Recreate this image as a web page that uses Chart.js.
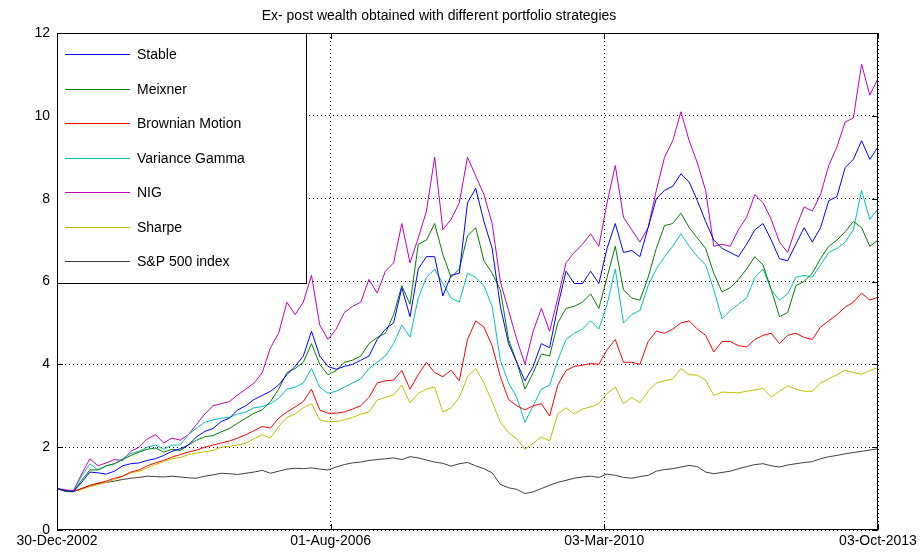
<!DOCTYPE html>
<html>
<head>
<meta charset="utf-8">
<script src="https://cdn.jsdelivr.net/npm/chart.js@4/dist/chart.umd.min.js"></script>
<style>
  html, body { margin: 0; padding: 0; background: #fff; }
  #wrap { width: 923px; height: 554px; }
</style>
</head>
<body>
<div id="wrap"><canvas id="wealth"></canvas></div>
<script>
// Ex-post wealth paths, sampled on an even grid of trading days (0..100)
const DATE_LABELS = ['30-Dec-2002', '01-Aug-2006', '03-Mar-2010', '03-Oct-2013'];

const stable = [
  1.00, 0.95, 0.93, 1.15, 1.40, 1.38, 1.35, 1.42, 1.55, 1.60,
  1.62, 1.68, 1.72, 1.80, 1.90, 1.96, 2.05, 2.25, 2.38, 2.45,
  2.62, 2.70, 2.90, 3.00, 3.15, 3.25, 3.35, 3.50, 3.75, 3.95,
  4.20, 4.80, 4.20, 3.95, 3.88, 3.95, 4.00, 4.10, 4.20, 4.60,
  4.85, 5.00, 5.85, 5.15, 6.30, 6.60, 6.60, 5.65, 6.15, 6.20,
  7.90, 8.25, 7.45, 6.80, 5.40, 4.50, 4.05, 3.60, 3.95, 4.50,
  4.40, 5.40, 6.25, 5.95, 5.95, 6.25, 5.95, 6.80, 7.40, 6.70,
  6.75, 6.60, 7.30, 8.00, 8.20, 8.30, 8.60, 8.40, 7.95, 7.45,
  7.00, 6.80, 6.70, 6.60, 6.90, 7.25, 7.40, 7.00, 6.55, 6.50,
  6.90, 7.30, 6.95, 7.30, 7.95, 8.05, 8.75, 8.95, 9.40, 8.95,
  9.25
];

const meixner = [
  1.00, 0.93, 0.92, 1.20, 1.45, 1.45, 1.55, 1.60, 1.70, 1.80,
  1.88, 1.95, 1.98, 1.88, 1.95, 1.92, 2.05, 2.17, 2.25, 2.28,
  2.37, 2.45, 2.58, 2.70, 2.82, 2.90, 3.10, 3.40, 3.80, 3.90,
  4.05, 4.50, 4.00, 3.75, 3.85, 4.05, 4.10, 4.20, 4.50, 4.65,
  4.75, 5.20, 5.90, 5.45, 6.90, 7.00, 7.40, 6.65, 6.10, 6.30,
  7.10, 7.30, 6.50, 6.20, 5.80, 4.60, 4.05, 3.40, 3.80, 4.25,
  4.20, 5.00, 5.35, 5.40, 5.50, 5.70, 5.35, 6.10, 6.85, 5.80,
  5.60, 5.55, 6.10, 6.80, 7.35, 7.40, 7.65, 7.30, 7.05, 6.80,
  6.20, 5.75, 5.85, 6.05, 6.30, 6.60, 6.40, 5.80, 5.15, 5.25,
  5.90, 6.00, 6.20, 6.55, 6.85, 7.00, 7.20, 7.45, 7.30, 6.85,
  7.00
];

const brownian = [
  1.00, 0.95, 0.93, 1.00, 1.08, 1.13, 1.18, 1.25, 1.30, 1.40,
  1.45, 1.55, 1.62, 1.68, 1.76, 1.82, 1.88, 1.93, 2.00, 2.05,
  2.10, 2.15, 2.22, 2.30, 2.40, 2.50, 2.46, 2.70, 2.85, 2.97,
  3.10, 3.40, 2.90, 2.82, 2.82, 2.85, 2.92, 3.00, 3.20, 3.55,
  3.60, 3.62, 3.85, 3.40, 3.75, 4.05, 3.80, 3.70, 3.86, 3.60,
  4.60, 5.05, 4.90, 4.45, 3.70, 3.15, 3.00, 2.90, 3.00, 3.05,
  2.75, 3.50, 3.85, 3.95, 3.98, 4.02, 4.00, 4.35, 4.60, 4.05,
  4.05, 4.00, 4.55, 4.80, 4.75, 4.85, 5.00, 5.05, 4.85, 4.70,
  4.30, 4.55, 4.55, 4.45, 4.42, 4.60, 4.70, 4.75, 4.50, 4.70,
  4.75, 4.65, 4.60, 4.90, 5.05, 5.20, 5.38, 5.50, 5.72, 5.55,
  5.62
];

const varianceGamma = [
  1.00, 0.95, 0.93, 1.30, 1.60, 1.45, 1.55, 1.60, 1.72, 1.85,
  1.90, 2.00, 2.05, 1.95, 2.05, 2.05, 2.30, 2.46, 2.60, 2.66,
  2.70, 2.72, 2.80, 2.85, 2.95, 2.98, 3.05, 3.18, 3.40, 3.45,
  3.55, 3.90, 3.45, 3.30, 3.35, 3.45, 3.55, 3.65, 3.90, 4.05,
  4.20, 4.50, 4.95, 4.66, 5.60, 6.10, 6.30, 5.95, 5.60, 5.50,
  6.20, 6.10, 5.90, 5.40, 4.10, 3.55, 3.20, 2.60, 3.00, 3.40,
  3.50, 4.10, 4.60, 4.75, 4.85, 5.05, 4.85, 5.45, 6.30, 5.00,
  5.20, 5.30, 5.90, 6.30, 6.60, 6.85, 7.15, 6.85, 6.60, 6.40,
  5.80, 5.10, 5.30, 5.45, 5.60, 6.10, 6.30, 5.80, 5.55, 5.70,
  6.10, 6.15, 6.10, 6.40, 6.70, 6.80, 6.95, 7.25, 8.20, 7.50,
  7.75
];

const nig = [
  1.00, 0.97, 0.95, 1.35, 1.72, 1.55, 1.62, 1.70, 1.68, 1.90,
  2.00, 2.20, 2.30, 2.10, 2.22, 2.17, 2.30, 2.55, 2.80, 3.00,
  3.05, 3.10, 3.26, 3.40, 3.55, 3.80, 4.40, 4.75, 5.50, 5.20,
  5.50, 6.15, 4.95, 4.60, 4.85, 5.25, 5.40, 5.50, 6.05, 5.72,
  6.25, 6.45, 7.40, 6.45, 7.05, 7.70, 9.00, 7.25, 7.50, 7.90,
  9.00, 8.55, 8.10, 7.40, 6.00, 5.30, 4.60, 4.00, 4.80, 5.35,
  4.80, 5.60, 6.45, 6.70, 6.90, 7.15, 6.85, 7.90, 8.80, 7.55,
  7.25, 6.95, 7.30, 8.20, 9.00, 9.40, 10.10, 9.40, 8.86, 8.20,
  6.85, 6.90, 6.85, 7.25, 7.55, 8.10, 7.90, 7.50, 6.95, 6.70,
  7.30, 7.80, 7.70, 8.10, 8.80, 9.25, 9.85, 9.95, 11.25, 10.50,
  10.90
];

const sharpe = [
  1.00, 0.95, 0.93, 0.98, 1.05, 1.10, 1.15, 1.22, 1.30, 1.38,
  1.42, 1.50, 1.58, 1.65, 1.72, 1.75, 1.82, 1.86, 1.89, 1.92,
  2.00, 2.02, 2.05, 2.10, 2.20, 2.30, 2.22, 2.50, 2.72, 2.80,
  2.95, 3.05, 2.66, 2.61, 2.62, 2.66, 2.72, 2.80, 2.85, 3.14,
  3.20, 3.26, 3.50, 3.07, 3.30, 3.40, 3.45, 2.85, 2.95, 3.20,
  3.70, 3.90, 3.55, 3.10, 2.60, 2.35, 2.20, 1.95, 2.10, 2.25,
  2.15, 2.80, 2.95, 2.80, 2.92, 2.97, 3.05, 3.30, 3.45, 3.05,
  3.20, 3.07, 3.35, 3.55, 3.60, 3.65, 3.90, 3.75, 3.74, 3.62,
  3.25, 3.33, 3.32, 3.31, 3.35, 3.38, 3.42, 3.21, 3.35, 3.48,
  3.40, 3.35, 3.35, 3.55, 3.65, 3.75, 3.86, 3.80, 3.76, 3.85,
  3.92
];

const sp500 = [
  1.00, 0.95, 0.93, 1.00, 1.06, 1.12, 1.15, 1.18, 1.22, 1.25,
  1.27, 1.30, 1.29, 1.28, 1.30, 1.28, 1.26, 1.25, 1.30, 1.33,
  1.37, 1.36, 1.34, 1.37, 1.40, 1.44, 1.37, 1.42, 1.47, 1.49,
  1.48, 1.50, 1.47, 1.45, 1.52, 1.58, 1.62, 1.64, 1.68, 1.70,
  1.72, 1.74, 1.70, 1.77, 1.74, 1.69, 1.64, 1.61, 1.54, 1.60,
  1.63, 1.55, 1.48, 1.38, 1.10, 1.02, 0.98, 0.88, 0.92, 1.00,
  1.08, 1.15, 1.20, 1.25, 1.28, 1.30, 1.27, 1.35, 1.32, 1.27,
  1.25, 1.29, 1.32, 1.42, 1.46, 1.48, 1.52, 1.56, 1.53, 1.40,
  1.36, 1.39, 1.42, 1.48, 1.53, 1.58, 1.60, 1.55, 1.52, 1.57,
  1.60, 1.63, 1.65, 1.72, 1.77, 1.80, 1.84, 1.87, 1.90, 1.93,
  1.96
];

const FONT = 'Liberation Sans, Arial, sans-serif';
const LAST = stable.length - 1;
const days = stable.map((_, i) => i);

const series = [
  ['Stable', stable, '#0000ff'],
  ['Meixner', meixner, '#008000'],
  ['Brownian Motion', brownian, '#ff0000'],
  ['Variance Gamma', varianceGamma, '#00bfbf'],
  ['NIG', nig, '#bf00bf'],
  ['Sharpe', sharpe, '#bfbf00'],
  ['S&P 500 index', sp500, '#404040'],
];

const datasets = series.map(([label, data, color]) => ({
  label,
  data: data.map((v, i) => ({ x: days[i], y: v })),
  borderColor: color,
  backgroundColor: color,
  borderWidth: 1,
  pointRadius: 0,
  tension: 0,
  fill: false,
}));

// box frame, inward tick marks, boxed legend in the upper left corner
const frame = {
  id: 'frame',
  afterDatasetsDraw(chart) {
    const { ctx, chartArea: a, scales } = chart;
    ctx.save();
    ctx.strokeStyle = '#000';
    ctx.lineWidth = 1;
    ctx.strokeRect(a.left + 0.5, a.top + 0.5, a.width - 1, a.height - 1);

    ctx.beginPath();
    scales.x.ticks.forEach(t => {
      const x = Math.round(scales.x.getPixelForValue(t.value)) + 0.5;
      ctx.moveTo(x, a.bottom); ctx.lineTo(x, a.bottom - 6);
      ctx.moveTo(x, a.top); ctx.lineTo(x, a.top + 6);
    });
    scales.y.ticks.forEach(t => {
      const y = Math.round(scales.y.getPixelForValue(t.value)) + 0.5;
      ctx.moveTo(a.left, y); ctx.lineTo(a.left + 6, y);
      ctx.moveTo(a.right, y); ctx.lineTo(a.right - 6, y);
    });
    ctx.stroke();

    // legend
    const bx = Math.round(a.left) + 0.5, by = Math.round(a.top) + 0.5, bw = 249, bh = 250;
    ctx.fillStyle = '#fff';
    ctx.fillRect(bx, by, bw, bh);
    ctx.strokeRect(bx, by, bw, bh);
    ctx.font = '14px ' + FONT;
    ctx.textBaseline = 'middle';
    chart.data.datasets.forEach((ds, i) => {
      const y = Math.round(a.top + 21 + i * 34.5);
      ctx.fillStyle = ds.borderColor;
      ctx.fillRect(Math.round(a.left) + 8, y, 65, 1);
      ctx.fillStyle = '#000';
      ctx.fillText(ds.label, a.left + 80, y + 1);
    });
    ctx.restore();
  },
};

new Chart(document.getElementById('wealth'), {
  type: 'line',
  data: { datasets },
  plugins: [frame],
  options: {
    responsive: true,
    maintainAspectRatio: false,
    animation: false,
    layout: { padding: { left: 0, right: 45, top: 0, bottom: 0 } },
    plugins: {
      legend: { display: false },
      tooltip: { enabled: false },
      title: {
        display: true,
        text: 'Ex- post wealth obtained with different portfolio strategies',
        color: '#000',
        font: { family: FONT, size: 14, weight: 'normal', lineHeight: 1.2 },
        padding: { top: 8, bottom: 8.2 },
      },
    },
    scales: {
      x: {
        type: 'linear',
        min: 0,
        max: LAST,
        afterBuildTicks: s => { s.ticks = DATE_LABELS.map((_, k) => ({ value: LAST * k / 3 })); },
        afterFit: s => { s.height = 24; },
        ticks: {
          autoSkip: false,
          maxRotation: 0,
          color: '#000',
          padding: 3,
          font: { family: FONT, size: 14 },
          callback: (v, i) => DATE_LABELS[i],
        },
        grid: {
          color: '#000',
          lineWidth: 1,
          drawTicks: false,
        },
        border: { display: false, dash: [1, 3] },
      },
      y: {
        min: 0,
        max: 12,
        afterFit: s => { s.width = 57; },
        ticks: {
          stepSize: 2,
          color: '#000',
          padding: 7,
          font: { family: FONT, size: 14 },
        },
        grid: {
          color: '#000',
          lineWidth: 1,
          drawTicks: false,
        },
        border: { display: false, dash: [1, 3] },
      },
    },
  },
});
</script>
</body>
</html>
